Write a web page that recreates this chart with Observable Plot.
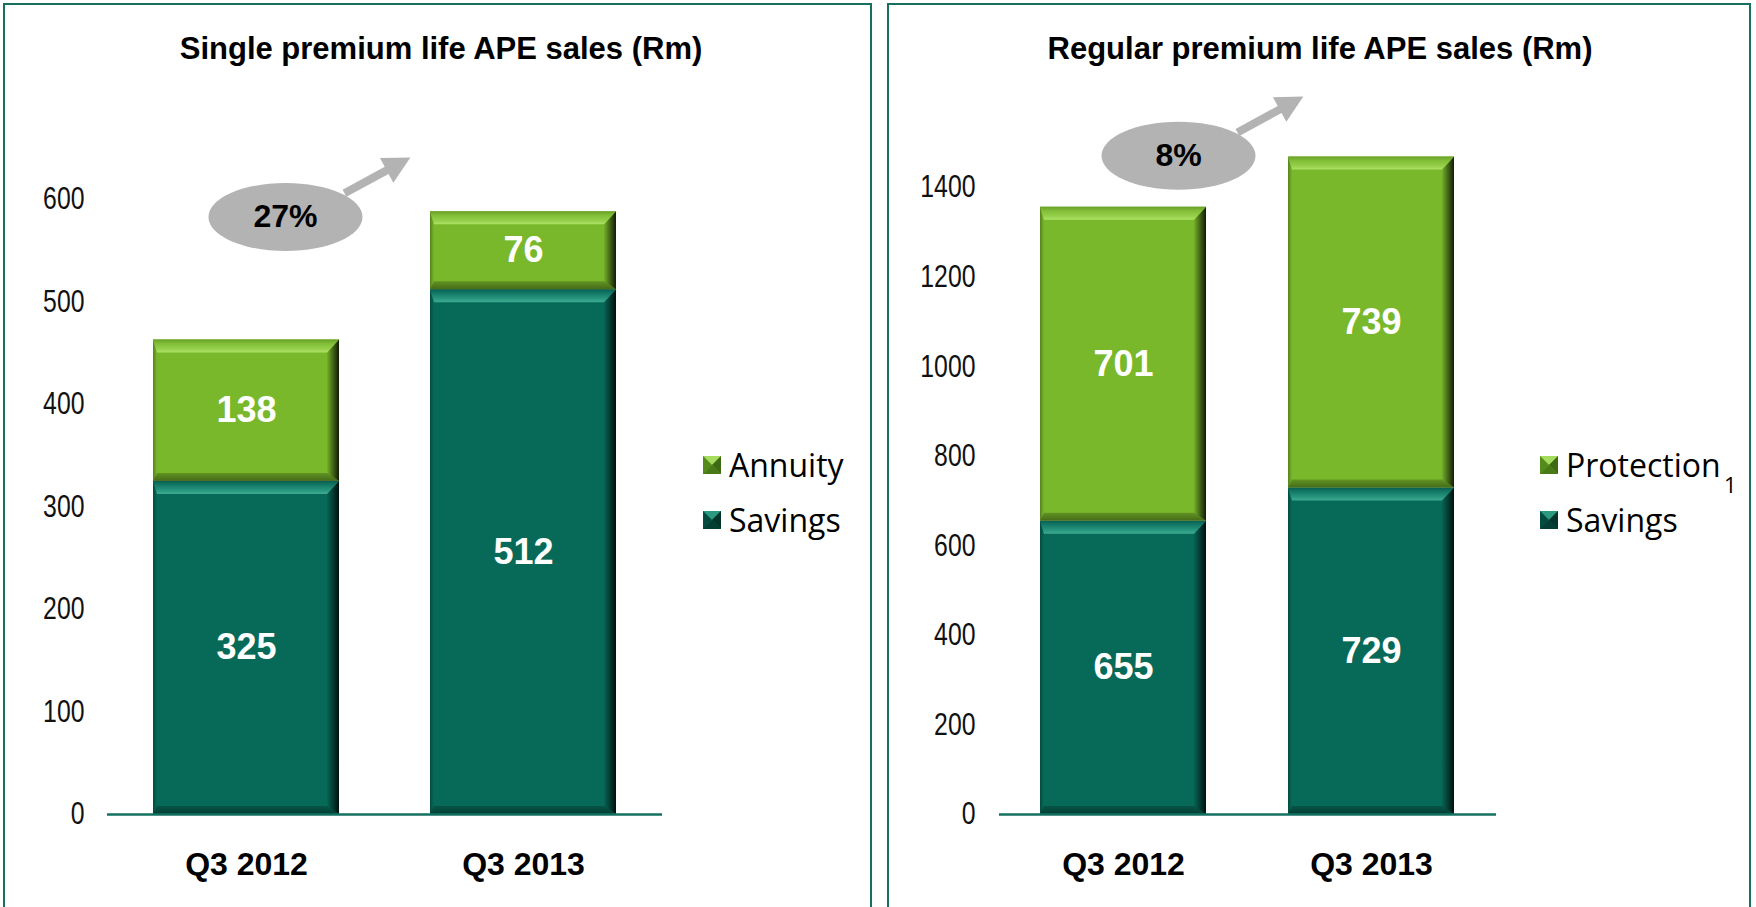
<!DOCTYPE html>
<html><head><meta charset="utf-8">
<script src="https://cdn.jsdelivr.net/npm/d3@7"></script>
<script src="https://cdn.jsdelivr.net/npm/@observablehq/plot@0.6"></script>
<style>
html,body{margin:0;padding:0;background:#fff;width:1756px;height:907px;overflow:hidden;position:relative;}
.panel{position:absolute;top:3px;height:1000px;border:2px solid #17705e;box-sizing:border-box;}
.title{position:absolute;top:33px;font-family:"Liberation Sans",Arial,sans-serif;font-weight:bold;font-size:31px;line-height:31px;color:#000;white-space:nowrap;transform:translateX(-50%);}
.chart{position:absolute;top:5px;}
.leg{position:absolute;font-family:"Open Sans",sans-serif;font-size:32px;line-height:32px;color:#000;white-space:nowrap;}
.sup{position:absolute;font-family:"Open Sans",sans-serif;font-size:22px;line-height:22px;color:#000;}
.sw{position:absolute;width:18px;height:18px;}
</style></head><body>
<svg width="0" height="0" style="position:absolute">
 <defs>
  <linearGradient id="gTopGreen" x1="0" y1="0" x2="0" y2="1">
   <stop offset="0" stop-color="#6a9f2a"/><stop offset="0.3" stop-color="#80bd36"/><stop offset="0.75" stop-color="#98d14d"/><stop offset="1" stop-color="#aee266"/>
  </linearGradient>
  <linearGradient id="gTopTeal" x1="0" y1="0" x2="0" y2="1">
   <stop offset="0" stop-color="#0a5e50"/><stop offset="0.3" stop-color="#127866"/><stop offset="0.75" stop-color="#2a9880"/><stop offset="1" stop-color="#3eab90"/>
  </linearGradient>
  <linearGradient id="gRight" x1="0" y1="0" x2="1" y2="0">
   <stop offset="0" stop-color="#000" stop-opacity="0.05"/><stop offset="1" stop-color="#000" stop-opacity="0.85"/>
  </linearGradient>
  <linearGradient id="gLeft" x1="0" y1="0" x2="1" y2="0">
   <stop offset="0" stop-color="#000" stop-opacity="0.3"/><stop offset="1" stop-color="#000" stop-opacity="0"/>
  </linearGradient>
  <linearGradient id="gBottom" x1="0" y1="0" x2="0" y2="1">
   <stop offset="0" stop-color="#000" stop-opacity="0.2"/><stop offset="1" stop-color="#000" stop-opacity="0.42"/>
  </linearGradient>
 </defs>
</svg>
<div class="panel" style="left:3px;width:869px"></div>
<div class="panel" style="left:887px;width:864px"></div>
<div id="t1" class="title" style="left:441px"></div>
<div id="t2" class="title" style="left:1320px"></div>
<div id="c1" class="chart" style="left:5px"></div>
<div id="c2" class="chart" style="left:889px"></div>
<div id="leg1"></div>
<div id="leg2"></div>
<script>
// ---- data ----
const periods = ["Q3 2012", "Q3 2013"];
const singleSavings = [325, 512];
const singleAnnuity = [138, 76];
const regularSavings = [655, 729];
const regularProtection = [701, 739];
const singleGrowth = ["27%"];
const regularGrowth = ["8%"];
const singleTicks = [0, 100, 200, 300, 400, 500, 600];
const regularTicks = [0, 200, 400, 600, 800, 1000, 1200, 1400];
const titles = ["Single premium life APE sales (Rm)", "Regular premium life APE sales (Rm)"];

const TEAL = "#076a59";
const GREEN = "#79b82b";
const GRAY = "#b3b3b3";
const NS = "http://www.w3.org/2000/svg";

function ellipseSymbol(rx, ry) {
  const k = 0.5523;
  return {draw(c) {
    c.moveTo(rx, 0);
    c.bezierCurveTo(rx, ry * k, rx * k, ry, 0, ry);
    c.bezierCurveTo(-rx * k, ry, -rx, ry * k, -rx, 0);
    c.bezierCurveTo(-rx, -ry * k, -rx * k, -ry, 0, -ry);
    c.bezierCurveTo(rx * k, -ry, rx, -ry * k, rx, 0);
    c.closePath();
  }};
}
function arrowSymbol(len, angleDeg, shaft = 4, headLen = 27, headHalf = 14) {
  const a = angleDeg * Math.PI / 180;
  const ux = Math.cos(a), uy = -Math.sin(a);
  const vx = -uy, vy = ux;
  const P = (s, t) => [s * ux + t * vx, s * uy + t * vy];
  const pts = [P(0, -shaft), P(len - headLen, -shaft), P(len - headLen, -headHalf), P(len, 0),
               P(len - headLen, headHalf), P(len - headLen, shaft), P(0, shaft)];
  return {draw(c) {
    c.moveTo(...pts[0]);
    for (let i = 1; i < pts.length; i++) c.lineTo(...pts[i]);
    c.closePath();
  }};
}

function bevel(svg) {
  svg.querySelectorAll('g[aria-label="bar"] rect').forEach(r => {
    const x = +r.getAttribute("x"), y = +r.getAttribute("y");
    const w = +r.getAttribute("width"), h = +r.getAttribute("height");
    const green = (r.getAttribute("fill") || "").toLowerCase() === GREEN;
    const T = 13, R = 12, B = 8, L = 4;
    const polys = [
      [[[x + w, y], [x + w, y + h], [x + w - R, y + h - B], [x + w - R, y + T]], "url(#gRight)"],
      [[[x, y], [x + L, y + T], [x + L, y + h - B], [x, y + h]], "url(#gLeft)"],
      [[[x, y + h], [x + w, y + h], [x + w - R, y + h - B], [x + L, y + h - B]], "url(#gBottom)"],
      [[[x, y], [x + w, y], [x + w - R, y + T], [x + L, y + T]], green ? "url(#gTopGreen)" : "url(#gTopTeal)"]
    ];
    let ref = r.nextSibling;
    for (const [pts, fill] of polys) {
      const p = document.createElementNS(NS, "polygon");
      p.setAttribute("points", pts.map(d => d.join(",")).join(" "));
      p.setAttribute("fill", fill);
      r.parentNode.insertBefore(p, ref);
    }
  });
}

// narrow the tick label glyphs (the original uses a narrow-figure face); run once attached to the page
function narrowTicks(svg, k) {
  svg.querySelectorAll('g[aria-label="y-axis tick label"] text').forEach(t => {
    const L = t.getComputedTextLength();
    if (L > 0) {
      t.setAttribute("textLength", (L * k).toFixed(2));
      t.setAttribute("lengthAdjust", "spacingAndGlyphs");
    }
  });
}

function makeChart({savings, other, otherName, ticks, yMax, growth, width, mLeft, mRight, mTop, tickPad, bubble, arrow}) {
  const rows = periods.flatMap((p, i) => [
    {period: p, series: "Savings", value: savings[i]},
    {period: p, series: otherName, value: other[i]}
  ]);
  const chart = Plot.plot({
    width, height: 902,
    marginLeft: mLeft, marginRight: mRight, marginTop: mTop, marginBottom: 93,
    style: {fontFamily: "'Liberation Sans', Arial, sans-serif", background: "transparent", overflow: "visible", color: "#000"},
    x: {domain: periods, paddingInner: 0.33, paddingOuter: 0.165},
    y: {domain: [0, yMax]},
    color: {domain: ["Savings", otherName], range: [TEAL, GREEN]},
    marks: [
      Plot.barY(rows, {x: "period", y: "value", fill: "series"}),
      Plot.ruleY([0], {stroke: "#137060", strokeWidth: 2.5}),
      Plot.text(rows, Plot.stackY({x: "period", y: "value", z: "series", text: d => String(d.value),
        fill: "white", fontSize: 36, fontWeight: "bold"})),
      Plot.axisY(ticks, {tickSize: 0, tickPadding: tickPad, fontSize: 31, tickFormat: d => String(d), label: null, fill: "#111"}),
      Plot.axisX({tickSize: 0, tickPadding: 38, fontSize: 32, fontWeight: "bold", label: null}),
      Plot.dot(growth, {x: () => periods[0], y: () => arrow.y, dx: arrow.dx, r: 10,
        symbol: arrowSymbol(75, 28.6), fill: GRAY, stroke: "none"}),
      Plot.dot(growth, {x: () => periods[0], y: () => bubble.y, dx: bubble.dx, r: 10,
        symbol: ellipseSymbol(77, 34), fill: GRAY, stroke: "none"}),
      Plot.text(growth, {x: () => periods[0], y: () => bubble.y, dx: bubble.dx, text: d => d,
        fill: "#000", fontSize: 32, fontWeight: "bold"})
    ]
  });
  bevel(chart);
  return chart;
}

document.getElementById("t1").textContent = titles[0];
document.getElementById("t2").textContent = titles[1];

const chart1 = makeChart({
  savings: singleSavings, other: singleAnnuity, otherName: "Annuity", ticks: singleTicks, yMax: 600,
  growth: singleGrowth, width: 864, mLeft: 102, mRight: 207, mTop: 194, tickPad: 23,
  bubble: {dx: 39, y: 583}, arrow: {dx: 98, y: 606}
});
const chart2 = makeChart({
  savings: regularSavings, other: regularProtection, otherName: "Protection", ticks: regularTicks, yMax: 1400,
  growth: regularGrowth, width: 859, mLeft: 110, mRight: 252, mTop: 182, tickPad: 24,
  bubble: {dx: 55, y: 1471}, arrow: {dx: 114, y: 1523}
});
document.getElementById("c1").append(chart1);
document.getElementById("c2").append(chart2);
narrowTicks(chart1, 0.8);
narrowTicks(chart2, 0.8);

// ---- legends ----
function swatch(color, light, dark) {
  return `<svg width="18" height="18" viewBox="0 0 18 18">
    <rect width="18" height="18" fill="${color}"/>
    <polygon points="0,0 18,0 9,9" fill="${light}"/>
    <polygon points="0,0 9,9 0,18" fill="${dark}" opacity="0.6"/>
    <polygon points="18,0 18,18 9,9" fill="${dark}"/>
    <polygon points="0,18 18,18 9,9" fill="${dark}" opacity="0.8"/></svg>`;
}
function legend(el, left, textLeft, items, sup) {
  const tops = [449, 504];
  let html = "";
  items.forEach((it, i) => {
    html += `<div class="sw" style="left:${left}px;top:${tops[i] + 7}px">${swatch(it.color, it.light, it.dark)}</div>`;
    html += `<div class="leg" style="left:${textLeft}px;top:${tops[i]}px">${it.name}</div>`;
  });
  if (sup) html += `<div class="sup" style="left:${sup.left}px;top:${sup.top}px">${sup.text}</div>`;
  el.innerHTML = html;
}
legend(document.getElementById("leg1"), 703, 729, [
  {name: "Annuity", color: GREEN, light: "#a6dc5e", dark: "#3e6a14"},
  {name: "Savings", color: TEAL, light: "#2c9a80", dark: "#03352b"}
]);
legend(document.getElementById("leg2"), 1540, 1566, [
  {name: "Protection", color: GREEN, light: "#a6dc5e", dark: "#3e6a14"},
  {name: "Savings", color: TEAL, light: "#2c9a80", dark: "#03352b"}
], {left: 1724, top: 473, text: "1"});
</script>
</body></html>
